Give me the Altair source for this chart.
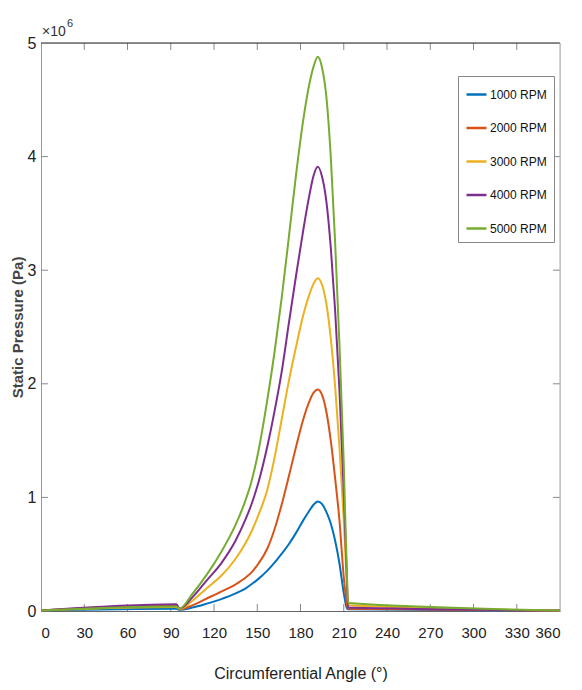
import altair as alt
import pandas as pd

# Circumferential angle (degrees) shared by all series
ANGLES = [0, 94, 96, 105, 115, 125, 135, 142, 146, 151, 157, 162, 167, 172,
          177, 182, 186, 189, 192, 195, 198, 201, 204, 207, 210, 212, 213, 360]

# Static pressure in units of 1e6 Pa
P_1000 = [0.005, 0.02, 0.01, 0.03, 0.065, 0.105, 0.155, 0.20, 0.235, 0.285, 0.355, 0.425, 0.505, 0.59,
          0.69, 0.80, 0.88, 0.935, 0.965, 0.94, 0.87, 0.77, 0.62, 0.42, 0.16, 0.03, 0.015, 0.003]
P_2000 = [0.005, 0.05, 0.015, 0.05, 0.11, 0.17, 0.235, 0.295, 0.34, 0.42, 0.55, 0.72, 0.94, 1.19,
          1.45, 1.69, 1.84, 1.92, 1.95, 1.90, 1.75, 1.50, 1.17, 0.80, 0.30, 0.08, 0.02, 0.003]
P_3000 = [0.005, 0.035, 0.015, 0.09, 0.20, 0.31, 0.46, 0.60, 0.70, 0.85, 1.07, 1.35, 1.69, 2.03,
          2.33, 2.61, 2.78, 2.88, 2.93, 2.87, 2.70, 2.40, 1.98, 1.45, 0.80, 0.28, 0.05, 0.004]
P_4000 = [0.005, 0.06, 0.02, 0.12, 0.27, 0.42, 0.62, 0.81, 0.94, 1.14, 1.45, 1.76, 2.11, 2.54,
          2.96, 3.36, 3.65, 3.83, 3.91, 3.82, 3.60, 3.20, 2.65, 1.95, 1.05, 0.35, 0.03, 0.004]
P_5000 = [0.005, 0.04, 0.02, 0.15, 0.32, 0.52, 0.76, 0.98, 1.14, 1.42, 1.86, 2.28, 2.76, 3.30,
          3.85, 4.33, 4.63, 4.79, 4.88, 4.78, 4.52, 4.00, 3.25, 2.35, 1.30, 0.40, 0.07, 0.005]

SERIES = ["1000 RPM", "2000 RPM", "3000 RPM", "4000 RPM", "5000 RPM"]
COLORS = ["#0072BD", "#D95319", "#EDB120", "#7E2F8E", "#77AC30"]

X_TICKS = list(range(0, 361, 30))
Y_TICKS = [0, 1, 2, 3, 4, 5]

rows = []
for name, vals in zip(SERIES, [P_1000, P_2000, P_3000, P_4000, P_5000]):
    for i, (a, v) in enumerate(zip(ANGLES, vals)):
        rows.append({"angle": a, "pressure": v, "series": name, "order": i})
df = pd.DataFrame(rows)

W, H = 519, 568
FONT = "Liberation Sans, Arial, sans-serif"

xscale = alt.Scale(domain=[0, 360], nice=False)
yscale = alt.Scale(domain=[0, 5], nice=False)

lines = alt.Chart(df).mark_line(strokeWidth=2, interpolate="monotone").encode(
    x=alt.X("angle:Q", scale=xscale,
            axis=alt.Axis(values=X_TICKS, title="Circumferential Angle (°)", ticks=False,
                          grid=False, domainColor="#666", labelPadding=14,
                          labelFont=FONT, labelFontSize=15, labelColor="#222",
                          titleFont=FONT, titleFontSize=16, titleFontWeight="normal",
                          titleColor="#222", titlePadding=25)),
    y=alt.Y("pressure:Q", scale=yscale,
            axis=alt.Axis(values=Y_TICKS, format="d", title="Static Pressure (Pa)", ticks=False,
                          grid=False, domainColor="#999", labelPadding=5,
                          labelFont=FONT, labelFontSize=16, labelColor="#222",
                          titleFont=FONT, titleFontSize=15, titleFontWeight="bold",
                          titleColor="#444", titlePadding=2)),
    color=alt.Color("series:N", scale=alt.Scale(domain=SERIES, range=COLORS),
                    legend=alt.Legend(title=None, orient="none", legendX=417, legendY=33,
                                      symbolType="stroke", symbolSize=400, symbolStrokeWidth=2.5,
                                      labelFont=FONT, labelFontSize=12, labelColor="#111",
                                      labelOffset=2, rowPadding=15.5, padding=7,
                                      strokeColor="#888", fillColor="white")),
    order="order:Q",
)

xt = pd.DataFrame({"angle": X_TICKS[1:-1]})
yt = pd.DataFrame({"pressure": Y_TICKS[1:-1]})

xticks_bottom = alt.Chart(xt).mark_rule(color="#888", strokeWidth=1).encode(
    x=alt.X("angle:Q", scale=xscale), y=alt.value(H), y2=alt.value(H - 7))
xticks_top = alt.Chart(xt).mark_rule(color="#888", strokeWidth=1).encode(
    x=alt.X("angle:Q", scale=xscale), y=alt.value(0), y2=alt.value(7))
yticks_left = alt.Chart(yt).mark_rule(color="#888", strokeWidth=1).encode(
    y=alt.Y("pressure:Q", scale=yscale), x=alt.value(0), x2=alt.value(7))
yticks_right = alt.Chart(yt).mark_rule(color="#888", strokeWidth=1).encode(
    y=alt.Y("pressure:Q", scale=yscale), x=alt.value(W), x2=alt.value(W - 7))

one = pd.DataFrame({"k": [0]})
top_line = alt.Chart(one).mark_rule(color="#222", strokeWidth=1).encode(
    x=alt.value(0), x2=alt.value(W), y=alt.value(0))
right_line = alt.Chart(one).mark_rule(color="#aaa", strokeWidth=1).encode(
    x=alt.value(W), y=alt.value(0), y2=alt.value(H))

exp_base = alt.Chart(one).mark_text(font=FONT, fontSize=14, color="#333",
                                    align="left", baseline="alphabetic").encode(
    x=alt.value(1), y=alt.value(-7), text=alt.value("×10"))
exp_sup = alt.Chart(one).mark_text(font=FONT, fontSize=11, color="#333",
                                   align="left", baseline="alphabetic").encode(
    x=alt.value(26), y=alt.value(-16), text=alt.value("6"))

chart = alt.layer(
    xticks_bottom, xticks_top, yticks_left, yticks_right, top_line, right_line,
    lines, exp_base, exp_sup
).properties(
    width=W, height=H,
    autosize=alt.AutoSizeParams(type="none"),
    padding={"left": 33, "top": 35, "right": 14, "bottom": 71},
).configure_view(stroke=None).configure(background="white")

chart.save("out.html", embed_options={"renderer": "svg", "actions": False})
